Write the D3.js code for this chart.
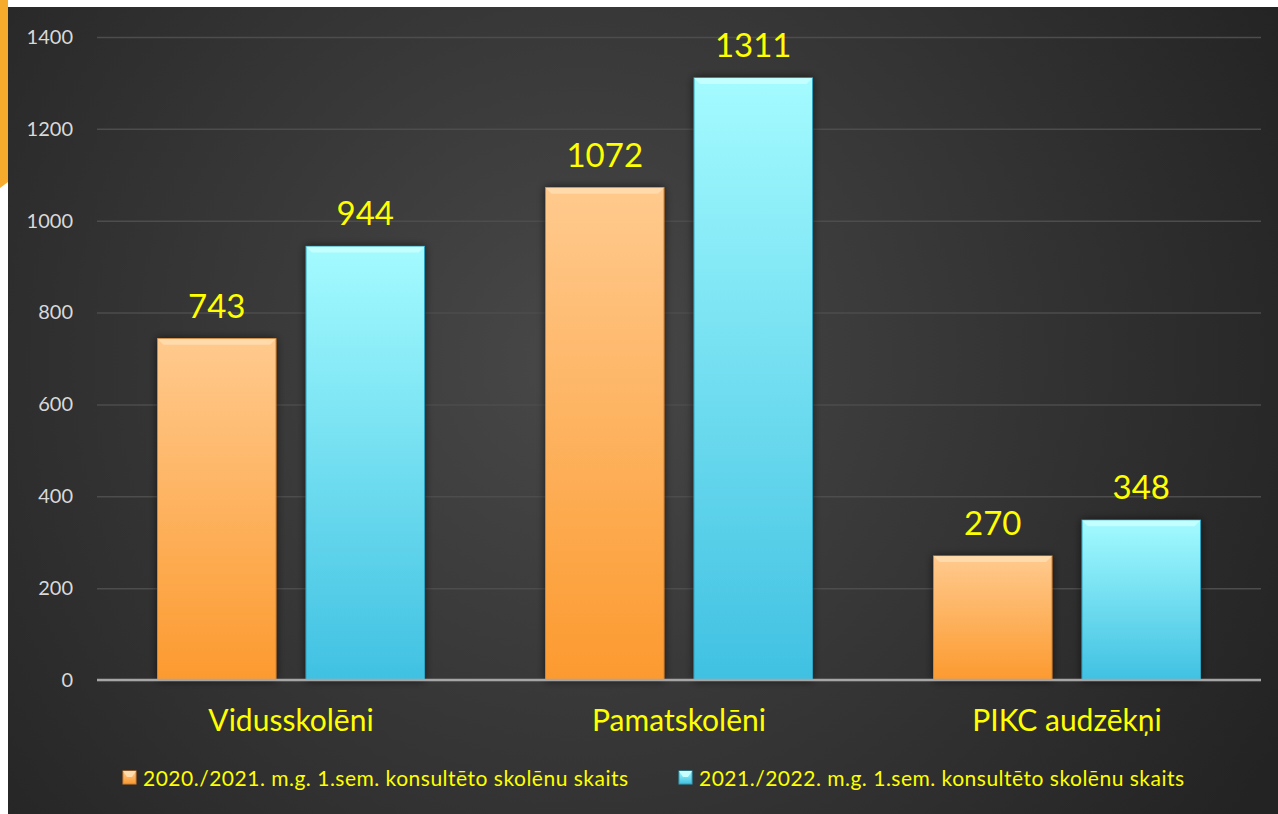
<!DOCTYPE html>
<html>
<head>
<meta charset="utf-8">
<script src="https://cdn.jsdelivr.net/npm/d3@7"></script>
<style>
  body { margin: 0; background: #fff; }
  svg { display: block; }
</style>
</head>
<body>
<svg id="chart"></svg>
<script>
// chart data
var categories = ["Vidusskolēni", "Pamatskolēni", "PIKC audzēkņi"];
var seriesNames = ["2020./2021. m.g. 1.sem. konsultēto skolēnu skaits",
                   "2021./2022. m.g. 1.sem. konsultēto skolēnu skaits"];
var values2021 = [743, 1072, 270];
var values2022 = [944, 1311, 348];
var yTicks = [0, 200, 400, 600, 800, 1000, 1200, 1400];

var width = 1278, height = 814;
var plot = {left: 97, right: 1261, top: 37, bottom: 680};
var font = "Lato, 'Open Sans', sans-serif";

var rows = categories.map(function(c, i) {
  return {cat: c, vals: [values2021[i], values2022[i]]};
});

var svg = d3.select("#chart").attr("width", width).attr("height", height);
var defs = svg.append("defs");

// background
var bg = defs.append("radialGradient").attr("id", "bg")
  .attr("gradientUnits", "userSpaceOnUse")
  .attr("cx", 580).attr("cy", 360).attr("r", 800);
bg.append("stop").attr("offset", "0%").attr("stop-color", "#484848");
bg.append("stop").attr("offset", "100%").attr("stop-color", "#232323");

var colors = [
  {top: "#ffca8e", bot: "#fc9a2f", bevel: "#ffdcae", edge: "#d9822a"},
  {top: "#a4fbff", bot: "#40c1e2", bevel: "#c8ffff", edge: "#2fa3c0"}
];
colors.forEach(function(c, i) {
  var g = defs.append("linearGradient").attr("id", "bar" + i)
    .attr("x1", 0).attr("y1", 0).attr("x2", 0).attr("y2", 1);
  g.append("stop").attr("offset", "0%").attr("stop-color", c.top);
  g.append("stop").attr("offset", "100%").attr("stop-color", c.bot);
});

var shadow = defs.append("filter").attr("id", "shadow")
  .attr("x", "-20%").attr("y", "-20%").attr("width", "140%").attr("height", "140%");
shadow.append("feDropShadow").attr("dx", 0).attr("dy", 0)
  .attr("stdDeviation", 4).attr("flood-color", "#000").attr("flood-opacity", 0.6);

svg.append("rect").attr("x", 0).attr("y", 0).attr("width", width).attr("height", height).attr("fill", "#fff");
svg.append("rect").attr("x", 8).attr("y", 7).attr("width", width - 8).attr("height", height - 7).attr("fill", "url(#bg)");
// orange edge of slide at top left
svg.append("path").attr("d", "M0,0 L8,0 L8,182 L0,188 Z").attr("fill", "#f7ab2c");

// scales
var x0 = d3.scaleBand().domain(categories).range([plot.left, plot.right]).padding(0);
var x1 = d3.scaleBand().domain([0, 1]).range([60.5, 327.5]).paddingInner(0.202).paddingOuter(0);
var y = d3.scaleLinear().domain([0, 1400]).range([plot.bottom, plot.top]);

// grid + y axis
var yAxis = svg.append("g")
  .attr("transform", "translate(" + plot.left + ",0)")
  .call(d3.axisLeft(y).tickValues(yTicks).tickFormat(d3.format("d"))
    .tickSize(-(plot.right - plot.left)).tickPadding(24));
yAxis.select(".domain").remove();
yAxis.selectAll(".tick line").attr("stroke", "#4d4d4d").attr("stroke-width", 1.5);
yAxis.selectAll(".tick text")
  .attr("fill", "#d9d9d9")
  .attr("font-family", font)
  .attr("font-size", "20px");

// bars
var groups = svg.selectAll(".grp").data(rows).enter().append("g")
  .attr("class", "grp")
  .attr("transform", function(d) { return "translate(" + x0(d.cat) + ",0)"; });

var bars = groups.selectAll(".bar").data(function(d) {
  return d.vals.map(function(v, i) { return {s: i, v: v}; });
}).enter().append("g").attr("class", "bar");

bars.append("rect")
  .attr("x", function(d) { return x1(d.s); })
  .attr("y", function(d) { return y(d.v); })
  .attr("width", x1.bandwidth())
  .attr("height", function(d) { return y(0) - y(d.v); })
  .attr("fill", function(d) { return "url(#bar" + d.s + ")"; })
  .attr("stroke", function(d) { return colors[d.s].edge; })
  .attr("stroke-width", 1)
  .attr("filter", "url(#shadow)");

// top bevel
bars.append("path")
  .attr("d", function(d) {
    var xa = x1(d.s), xb = xa + x1.bandwidth(), t = y(d.v), b = 6;
    return "M" + xa + "," + t + "L" + xb + "," + t + "L" + (xb - b) + "," + (t + b) + "L" + (xa + b) + "," + (t + b) + "Z";
  })
  .attr("fill", function(d) { return colors[d.s].bevel; })
  .attr("opacity", 0.9);

// value labels
bars.append("text")
  .attr("x", function(d) { return x1(d.s) + x1.bandwidth() / 2; })
  .attr("y", function(d) { return y(d.v) - 21; })
  .attr("text-anchor", "middle")
  .attr("fill", "#ffff00")
  .attr("font-family", font)
  .attr("font-size", "33px")
  .text(function(d) { return d.v; });

// baseline
svg.append("line")
  .attr("x1", plot.left).attr("x2", plot.right)
  .attr("y1", y(0)).attr("y2", y(0))
  .attr("stroke", "#a6a6a6").attr("stroke-width", 2.5);

// category labels
svg.selectAll(".cat").data(categories).enter().append("text")
  .attr("class", "cat")
  .attr("x", function(d) { return x0(d) + x0.bandwidth() / 2; })
  .attr("y", 731)
  .attr("text-anchor", "middle")
  .attr("fill", "#ffff00")
  .attr("font-family", font)
  .attr("font-size", "30px")
  .text(function(d) { return d; });

// legend
var legendX = [123, 679];
var legend = svg.selectAll(".leg").data(seriesNames).enter().append("g")
  .attr("class", "leg")
  .attr("transform", function(d, i) { return "translate(" + legendX[i] + ",779)"; });
legend.append("rect")
  .attr("x", 0).attr("y", -8).attr("width", 13).attr("height", 13)
  .attr("fill", function(d, i) { return "url(#bar" + i + ")"; })
  .attr("stroke", function(d, i) { return colors[i].edge; });
legend.append("path")
  .attr("d", "M0,-8 L13,-8 L9,-2 L4,-2 Z")
  .attr("fill", function(d, i) { return colors[i].bevel; });
legend.append("text")
  .attr("x", 20).attr("y", 7)
  .attr("fill", "#ffff00")
  .attr("font-family", font)
  .attr("font-size", "21px")
  .attr("letter-spacing", "0.5px")
  .text(function(d) { return d; });
</script>
</body>
</html>
